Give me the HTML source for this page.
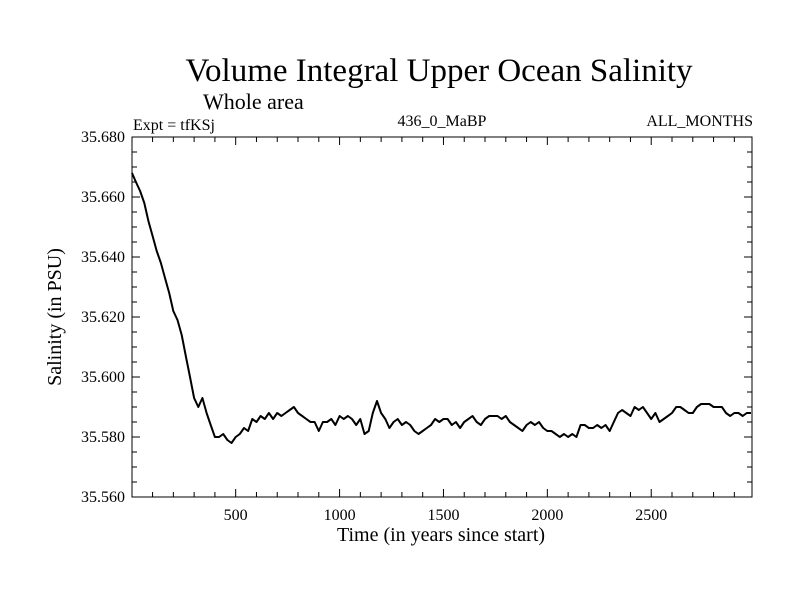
<!DOCTYPE html>
<html><head><meta charset="utf-8"><style>
html,body{margin:0;padding:0;background:#fff;}
svg{display:block;font-family:"Liberation Serif",serif;}
</style></head><body>
<svg id="chart" width="800" height="600">
<text x="439" y="81" font-size="33" text-anchor="middle">Volume Integral Upper Ocean Salinity</text>
<text x="203" y="109" font-size="22">Whole area</text>
<text x="133" y="130" font-size="16">Expt = tfKSj</text>
<text x="442" y="126" font-size="16" text-anchor="middle">436_0_MaBP</text>
<text x="753" y="126" font-size="16" text-anchor="end">ALL_MONTHS</text>
<text x="441" y="541" font-size="20" text-anchor="middle">Time (in years since start)</text>
<text transform="translate(61,317) rotate(-90)" font-size="20" text-anchor="middle">Salinity (in PSU)</text>
<g id="ticks"></g>
<path id="line" fill="none" stroke="#000" stroke-width="2" stroke-linejoin="round"></path>
<rect x="132" y="137" width="620" height="360" fill="none" stroke="#000" stroke-width="1"></rect>
</svg>
<script>
const years = [];
for (let i = 0; i < 150; i++) years.push(i * 20);
const salinity = [35.668,35.665,35.662,35.658,35.652,35.647,35.642,35.638,35.633,35.628,35.622,35.619,35.614,35.607,35.600,35.593,35.590,35.593,35.588,35.584,
35.580,35.580,35.581,35.579,35.578,35.580,35.581,35.583,35.582,35.586,35.585,35.587,35.586,35.588,35.586,35.588,35.587,35.588,35.589,35.590,
35.588,35.587,35.586,35.585,35.585,35.582,35.585,35.585,35.586,35.584,35.587,35.586,35.587,35.586,35.584,35.586,35.581,35.582,35.588,35.592,
35.588,35.586,35.583,35.585,35.586,35.584,35.585,35.584,35.582,35.581,35.582,35.583,35.584,35.586,35.585,35.586,35.586,35.584,35.585,35.583,
35.585,35.586,35.587,35.585,35.584,35.586,35.587,35.587,35.587,35.586,35.587,35.585,35.584,35.583,35.582,35.584,35.585,35.584,35.585,35.583,
35.582,35.582,35.581,35.580,35.581,35.580,35.581,35.580,35.584,35.584,35.583,35.583,35.584,35.583,35.584,35.582,35.585,35.588,35.589,35.588,
35.587,35.590,35.589,35.590,35.588,35.586,35.588,35.585,35.586,35.587,35.588,35.590,35.590,35.589,35.588,35.588,35.590,35.591,35.591,35.591,
35.590,35.590,35.590,35.588,35.587,35.588,35.588,35.587,35.588,35.588];
const xTickValues = [500,1000,1500,2000,2500];
const yTickValues = [35.56,35.58,35.60,35.62,35.64,35.66,35.68];
const yTickLabels = ["35.560","35.580","35.600","35.620","35.640","35.660","35.680"];
const X0=132,X1=752,Y0=137,Y1=497;
const xMin=1,xMax=2985,yMin=35.56,yMax=35.68;
const xs=v=>X0+(v-xMin)/(xMax-xMin)*(X1-X0);
const ys=v=>Y1-(v-yMin)/(yMax-yMin)*(Y1-Y0);
const NS="http://www.w3.org/2000/svg";
const g=document.getElementById('ticks');
function ln(x1,y1,x2,y2,name){const l=document.createElementNS(NS,'line');
l.setAttribute('x1',x1);l.setAttribute('y1',y1);l.setAttribute('x2',x2);l.setAttribute('y2',y2);
l.setAttribute('stroke','#000');l.setAttribute('stroke-width','1');


g.appendChild(l);}
for(let v=100;v<=2900;v+=100){const x=xs(v);const L=(v%500===0)?8:5;
ln(x,Y1,x,Y1-L,'x-tick');ln(x,Y0,x,Y0+L,'x-tick-top');}
for(let k=0;k<=24;k++){const v=35.56+k*0.005;const y=ys(v);const L=(k%4===0)?8:5;
ln(X0,y,X0+L,y,'y-tick');ln(X1,y,X1-L,y,'y-tick-right');}
xTickValues.forEach(v=>{const t=document.createElementNS(NS,'text');
t.setAttribute('x',xs(v));t.setAttribute('y',520);t.setAttribute('font-size','16');t.setAttribute('text-anchor','middle');


t.textContent=v;g.appendChild(t);});
yTickValues.forEach((v,i)=>{const t=document.createElementNS(NS,'text');
t.setAttribute('x',125);t.setAttribute('y',ys(v)+5);t.setAttribute('font-size','16');t.setAttribute('text-anchor','end');


t.textContent=yTickLabels[i];g.appendChild(t);});
let d='';
years.forEach((yr,i)=>{d+=(i?'L':'M')+xs(Math.max(yr,xMin)).toFixed(1)+','+ys(salinity[i]).toFixed(1);});
document.getElementById('line').setAttribute('d',d);
</script>
</body></html>
